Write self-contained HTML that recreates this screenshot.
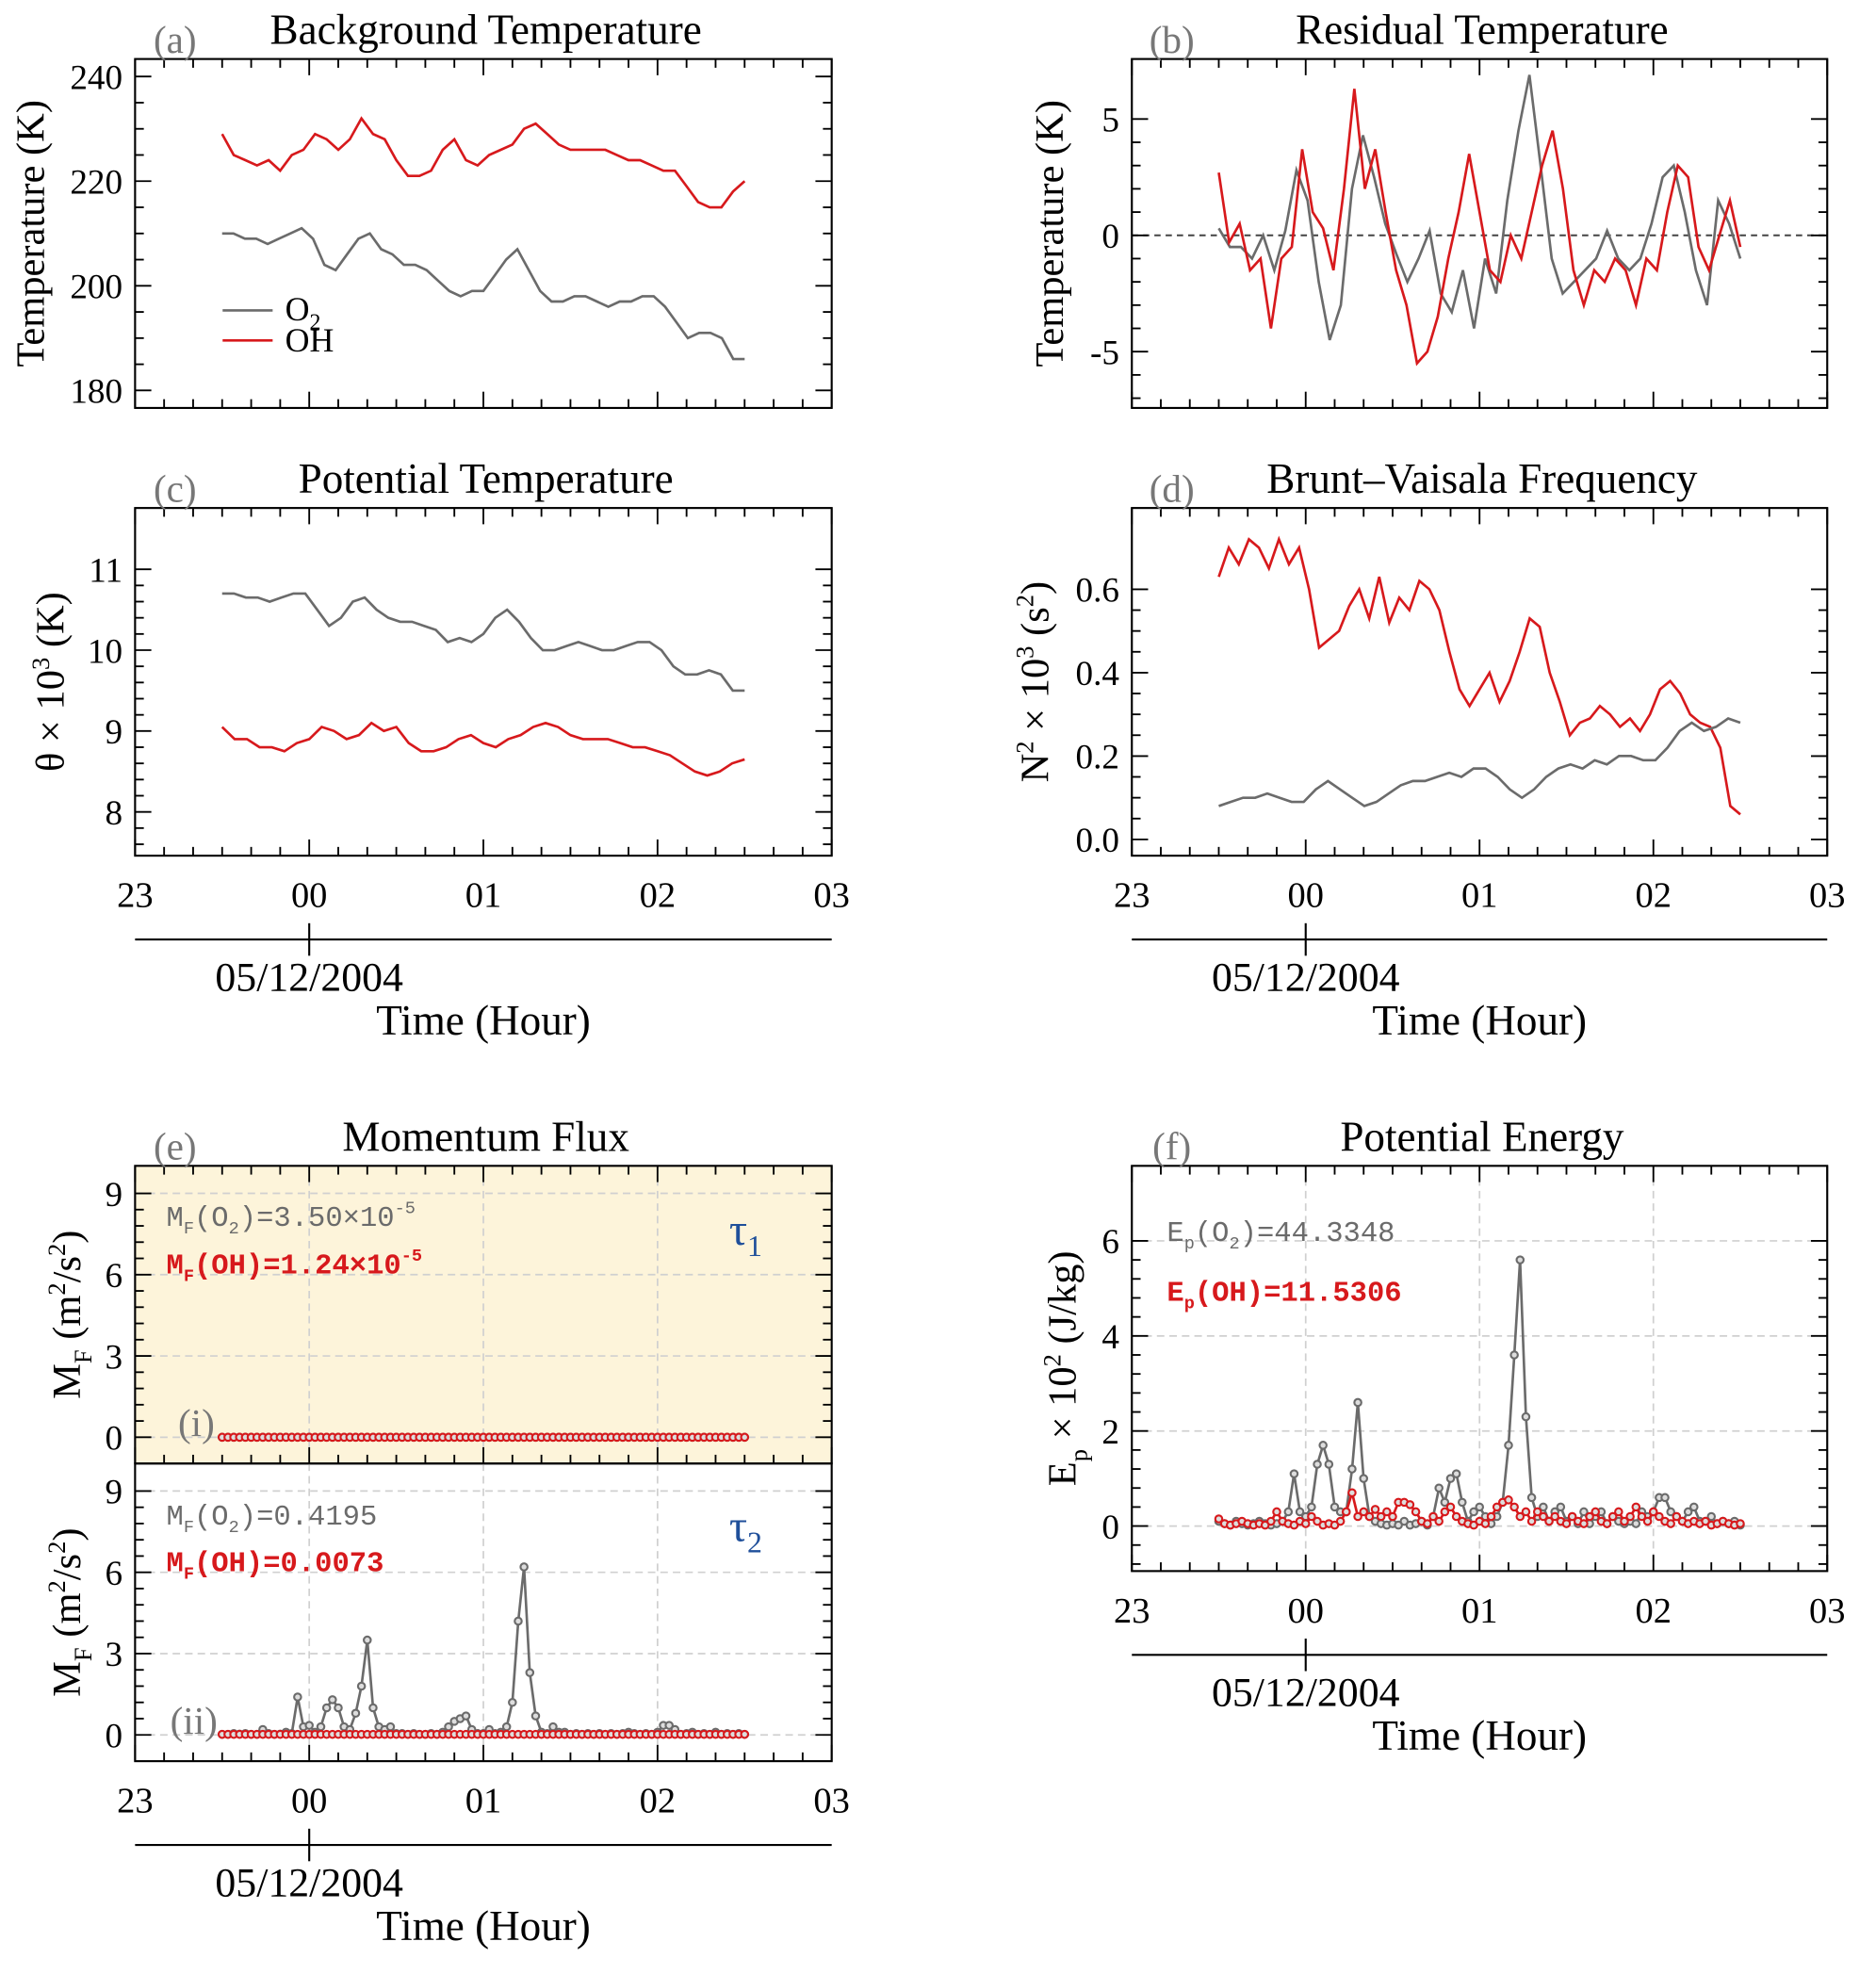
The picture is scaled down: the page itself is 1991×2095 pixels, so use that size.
<!DOCTYPE html>
<html><head><meta charset="utf-8">
<style>
html,body{margin:0;padding:0;background:#fff;}
svg{display:block;}
text{font-family:"Liberation Serif",serif;}
.mono{font-family:"Liberation Mono",monospace;}
</style></head>
<body>
<svg id="fig" width="1991" height="2095" viewBox="0 0 1500 1578" xmlns="http://www.w3.org/2000/svg"></svg>
<script>
// ---------- DATA ----------
const hourLabels = ["23","00","01","02","03"];
const bgO2 = [210,210,209,209,208,209,210,211,209,204,203,206,209,210,207,206,204,204,203,201,199,198,199,199,202,205,207,203,199,197,197,198,198,197,196,197,197,198,198,196,193,190,191,191,190,186,186];
const bgOH = [229,225,224,223,224,222,225,226,229,228,226,228,232,229,228,224,221,221,222,226,228,224,223,225,226,227,230,231,229,227,226,226,226,226,225,224,224,223,222,222,219,216,215,215,218,220];
const resO2 = [0.3,-0.5,-0.5,-1.0,0.0,-1.5,0.2,2.8,1.5,-2.0,-4.5,-3.0,2.0,4.3,2.5,0.5,-0.8,-2.0,-1.0,0.2,-2.5,-3.3,-1.5,-4.0,-1.0,-2.5,1.5,4.5,6.9,3.0,-1.0,-2.5,-2.0,-1.5,-1.0,0.2,-1.0,-1.5,-1.0,0.5,2.5,3.0,1.0,-1.5,-3.0,1.5,0.5,-1.0];
const resOH = [2.7,-0.3,0.5,-1.5,-1.0,-4.0,-1.0,-0.5,3.7,1.0,0.3,-1.5,2.0,6.3,2.0,3.7,1.0,-1.5,-3.0,-5.5,-5.0,-3.5,-1.0,1.0,3.5,1.0,-1.5,-2.0,0.0,-1.0,1.0,3.0,4.5,2.0,-1.5,-3.0,-1.5,-2.0,-1.0,-1.5,-3.0,-1.0,-1.5,1.0,3.0,2.5,-0.5,-1.5,0.0,1.5,-0.5];
const thO2 = [10.7,10.7,10.65,10.65,10.6,10.65,10.7,10.7,10.5,10.3,10.4,10.6,10.65,10.5,10.4,10.35,10.35,10.3,10.25,10.1,10.15,10.1,10.2,10.4,10.5,10.35,10.15,10.0,10.0,10.05,10.1,10.05,10.0,10.0,10.05,10.1,10.1,10.0,9.8,9.7,9.7,9.75,9.7,9.5,9.5];
const thOH = [9.05,8.9,8.9,8.8,8.8,8.75,8.85,8.9,9.05,9.0,8.9,8.95,9.1,9.0,9.05,8.85,8.75,8.75,8.8,8.9,8.95,8.85,8.8,8.9,8.95,9.05,9.1,9.05,8.95,8.9,8.9,8.9,8.85,8.8,8.8,8.75,8.7,8.6,8.5,8.45,8.5,8.6,8.65];
const bvOH = [0.63,0.70,0.66,0.72,0.70,0.65,0.72,0.66,0.70,0.60,0.46,0.48,0.50,0.56,0.60,0.53,0.63,0.52,0.58,0.55,0.62,0.60,0.55,0.45,0.36,0.32,0.36,0.40,0.33,0.38,0.45,0.53,0.51,0.40,0.33,0.25,0.28,0.29,0.32,0.30,0.27,0.29,0.26,0.30,0.36,0.38,0.35,0.30,0.28,0.27,0.22,0.08,0.06];
const bvO2 = [0.08,0.09,0.10,0.10,0.11,0.10,0.09,0.09,0.12,0.14,0.12,0.10,0.08,0.09,0.11,0.13,0.14,0.14,0.15,0.16,0.15,0.17,0.17,0.15,0.12,0.10,0.12,0.15,0.17,0.18,0.17,0.19,0.18,0.20,0.20,0.19,0.19,0.22,0.26,0.28,0.26,0.27,0.29,0.28];
const mf1O2 = [0,0,0,0,0,0,0,0,0,0,0,0,0,0,0,0,0,0,0,0,0,0,0,0,0,0,0,0,0,0,0,0,0,0,0,0,0,0,0,0,0,0,0,0,0,0,0,0,0,0,0,0,0,0,0,0,0,0,0,0,0,0,0,0,0,0,0,0,0,0,0,0,0,0,0,0,0,0,0,0,0,0,0,0,0,0,0,0,0,0,0];
const mf1OH = [0,0,0,0,0,0,0,0,0,0,0,0,0,0,0,0,0,0,0,0,0,0,0,0,0,0,0,0,0,0,0,0,0,0,0,0,0,0,0,0,0,0,0,0,0,0,0,0,0,0,0,0,0,0,0,0,0,0,0,0,0,0,0,0,0,0,0,0,0,0,0,0,0,0,0,0,0,0,0,0,0,0,0,0,0,0,0,0,0,0,0];
const mf2O2 = [0.02,0.02,0.05,0.03,0.05,0.02,0.02,0.2,0.05,0.02,0.03,0.1,0.05,1.4,0.3,0.35,0.1,0.3,1.0,1.3,1.0,0.3,0.2,0.8,1.8,3.5,1.0,0.3,0.2,0.3,0.05,0.05,0.02,0.05,0.02,0.02,0.05,0.02,0.1,0.3,0.5,0.6,0.7,0.2,0.05,0.05,0.2,0.05,0.1,0.3,1.2,4.2,6.2,2.3,0.7,0.1,0.05,0.3,0.1,0.1,0.02,0.05,0.02,0.05,0.02,0.05,0.02,0.05,0.02,0.05,0.1,0.05,0.02,0.05,0.02,0.1,0.35,0.35,0.2,0.02,0.05,0.1,0.02,0.05,0.02,0.1,0.02,0.05,0.02,0.05,0.02];
const mf2OH = [0.02,0.02,0.02,0.02,0.02,0.02,0.02,0.02,0.02,0.02,0.02,0.02,0.02,0.02,0.02,0.02,0.02,0.02,0.02,0.02,0.02,0.02,0.02,0.02,0.02,0.02,0.02,0.02,0.02,0.02,0.02,0.02,0.02,0.02,0.02,0.02,0.02,0.02,0.02,0.02,0.02,0.02,0.02,0.02,0.02,0.02,0.02,0.02,0.02,0.02,0.02,0.02,0.02,0.02,0.02,0.02,0.02,0.02,0.02,0.02,0.02,0.02,0.02,0.02,0.02,0.02,0.02,0.02,0.02,0.02,0.02,0.02,0.02,0.02,0.02,0.02,0.02,0.02,0.02,0.02,0.02,0.02,0.02,0.02,0.02,0.02,0.02,0.02,0.02,0.02,0.02];
const epO2 = [0.1,0.05,0.02,0.1,0.05,0.02,0.05,0.1,0.05,0.02,0.05,0.1,0.3,1.1,0.3,0.2,0.4,1.3,1.7,1.3,0.4,0.3,0.3,1.2,2.6,1.0,0.2,0.1,0.05,0.02,0.05,0.02,0.1,0.02,0.05,0.1,0.02,0.2,0.8,0.5,1.0,1.1,0.5,0.1,0.3,0.4,0.2,0.05,0.2,0.5,1.7,3.6,5.6,2.3,0.6,0.2,0.4,0.1,0.3,0.4,0.1,0.2,0.05,0.3,0.05,0.2,0.3,0.05,0.2,0.1,0.05,0.1,0.05,0.3,0.2,0.3,0.6,0.6,0.3,0.2,0.1,0.3,0.4,0.1,0.1,0.2,0.05,0.1,0.05,0.1,0.02];
const epOH = [0.15,0.05,0.02,0.05,0.1,0.05,0.02,0.05,0.02,0.1,0.3,0.1,0.05,0.02,0.1,0.05,0.2,0.1,0.02,0.05,0.02,0.1,0.3,0.7,0.2,0.3,0.2,0.35,0.2,0.3,0.2,0.5,0.5,0.45,0.3,0.1,0.05,0.2,0.1,0.3,0.4,0.2,0.1,0.05,0.02,0.1,0.05,0.2,0.4,0.5,0.55,0.4,0.2,0.3,0.1,0.3,0.2,0.1,0.2,0.1,0.05,0.2,0.1,0.05,0.2,0.3,0.1,0.05,0.2,0.3,0.1,0.2,0.4,0.2,0.1,0.3,0.2,0.1,0.05,0.2,0.1,0.05,0.1,0.05,0.1,0.02,0.05,0.1,0.05,0.02,0.05];

// ---------- HELPERS ----------
const NS="http://www.w3.org/2000/svg";
const svg=document.getElementById('fig');
const GRAY="#6b6b6b", RED="#d7191c";
function mk(tag,attrs,parent,txt){const e=document.createElementNS(NS,tag);for(const k in attrs)e.setAttribute(k,attrs[k]);if(txt!==undefined)e.textContent=txt;(parent||svg).appendChild(e);return e;}
function txt(x,y,s,size,fill,anchor,parent,name){const t=mk('text',{x:x,y:y,'font-size':size,fill:fill||'#000','text-anchor':anchor||'middle'},parent,s);


return t;}

function panel(p){
  const g=mk('g',{});
  
  
  const W=p.x1-p.x0;
  const xs=m=>p.x0+m/240*W;
  const ys=v=>p.yb+(v-p.vmin)/(p.vmax-p.vmin)*(p.yt-p.yb);
  if(p.bg){const r=mk('rect',{x:p.x0,y:p.y0,width:W,height:p.y1-p.y0,fill:p.bg},g);
    
    }
  if(p.grid){
    for(let h=1;h<4;h++){const l=mk('line',{x1:xs(h*60),x2:xs(h*60),y1:p.y0,y2:p.y1,stroke:'#d0d0d0','stroke-width':1.3,'stroke-dasharray':'6 4'},g);
      
      }
    p.ticks.forEach(v=>{const l=mk('line',{x1:p.x0,x2:p.x1,y1:ys(v),y2:ys(v),stroke:'#d0d0d0','stroke-width':1.3,'stroke-dasharray':'6 4'},g);
      
      });
  }
  if(p.zero){const l=mk('line',{x1:p.x0,x2:p.x1,y1:ys(0),y2:ys(0),stroke:'#444','stroke-width':1.5,'stroke-dasharray':'5 4'},g);
    
    }
  p.series.forEach(s=>{
    const n=s.data.length, step=180/(n-1);
    const pts=s.data.map((v,i)=>xs(30+i*step).toFixed(1)+','+ys(v).toFixed(1)).join(' ');
    const pl=mk('polyline',{points:pts,fill:'none',stroke:s.color,'stroke-width':s.w||2},g);
    
    
    if(s.markers){s.data.forEach((v,i)=>{const c=mk('circle',{cx:xs(30+i*step),cy:ys(v),r:2.8,fill:'#ddd',stroke:s.color,'stroke-width':1.6},g);
      
      });}
  });
  const fr=mk('rect',{x:p.x0,y:p.y0,width:W,height:p.y1-p.y0,fill:'none',stroke:'#000','stroke-width':1.6},g);
  
  
  for(let m=0;m<=240;m+=10){const big=m%60===0;const L=big?13:7;const x=xs(m);
    if(!p.noBottomTicks) mk('line',{x1:x,x2:x,y1:p.y1,y2:p.y1-L,stroke:'#000','stroke-width':1.4},g);
    if(!p.noTopTicks) mk('line',{x1:x,x2:x,y1:p.y0,y2:p.y0+L,stroke:'#000','stroke-width':1.4},g);}
  const mt=p.minor;
  for(let v=p.tickStart;v<=p.vmax+1e-9;v+=mt){const y=ys(v);if(y<p.y0-0.5||y>p.y1+0.5)continue;
    const isMaj=p.ticks.some(t=>Math.abs(t-v)<1e-6);const L=isMaj?13:7;
    mk('line',{x1:p.x0,x2:p.x0+L,y1:y,y2:y,stroke:'#000','stroke-width':1.4},g);
    mk('line',{x1:p.x1,x2:p.x1-L,y1:y,y2:y,stroke:'#000','stroke-width':1.4},g);}
  p.ticks.forEach((v,i)=>txt(p.x0-10,ys(v)+10,p.tickLabels[i],28,'#000','end',g,'y-tick-label'));
  if(p.xlabels){hourLabels.forEach((h,i)=>txt(xs(i*60),p.y1+41,h,29,'#000','middle',g,'x-tick-label'));
    const ay=p.y1+67;
    const al=mk('line',{x1:p.x0,x2:p.x1,y1:ay,y2:ay,stroke:'#000','stroke-width':1.6},g);
    
    
    mk('line',{x1:xs(60),x2:xs(60),y1:ay-13,y2:ay+13,stroke:'#000','stroke-width':1.6},g);
    txt(xs(60),ay+41,'05/12/2004',33,'#000','middle',g,'date-label');
    txt(xs(120),ay+76,'Time (Hour)',34,'#000','middle',g,'x-axis-title');}
  if(p.title) txt((p.x0+p.x1)/2+2,p.y0-12,p.title,34,'#000','middle',g,'panel-title');
  if(p.letter) txt(p.x0+32,p.y0-5,p.letter,31,'#777','middle',g,'panel-letter');
  if(p.ylabel){const t=mk('text',{transform:`translate(${p.ylx},${(p.y0+p.y1)/2}) rotate(-90)`,'font-size':32,'text-anchor':'middle'},g);
    
    
    t.innerHTML=p.ylabel;}
  return {g,xs,ys};
}

// (a)
const A=panel({name:'panel-a',x0:108,x1:665,y0:47,y1:326,vmin:180,vmax:240,yb:312,yt:61,ticks:[180,200,220,240],tickLabels:['180','200','220','240'],tickStart:180,minor:5,
 title:'Background Temperature',letter:'(a)',ylx:35,ylabel:'Temperature (K)',
 series:[{name:'o2-background',data:bgO2,color:GRAY},{name:'oh-background',data:bgOH,color:RED}]});
mk('line',{x1:178,x2:218,y1:248,y2:248,stroke:GRAY,'stroke-width':2},A.g);
mk('line',{x1:178,x2:218,y1:272,y2:272,stroke:RED,'stroke-width':2},A.g);
{const t=mk('text',{x:228,y:256,'font-size':27},A.g);t.innerHTML='O<tspan font-size="18" dy="7">2</tspan>';}
txt(228,281,'OH',27,'#000','start',A.g,'legend-oh');

// (b)
panel({name:'panel-b',x0:905,x1:1461,y0:47,y1:326,vmin:-5,vmax:5,yb:281,yt:95,ticks:[-5,0,5],tickLabels:['-5','0','5'],tickStart:-7,minor:1,zero:true,
 title:'Residual Temperature',letter:'(b)',ylx:850,ylabel:'Temperature (K)',
 series:[{name:'o2-residual',data:resO2,color:GRAY},{name:'oh-residual',data:resOH,color:RED}]});

// (c)
panel({name:'panel-c',x0:108,x1:665,y0:406,y1:684,vmin:8,vmax:11,yb:649,yt:455,ticks:[8,9,10,11],tickLabels:['8','9','10','11'],tickStart:7.6,minor:0.2,xlabels:true,
 title:'Potential Temperature',letter:'(c)',ylx:51,ylabel:'θ × 10<tspan font-size="20" dy="-12">3</tspan><tspan dy="12"> (K)</tspan>',
 series:[{name:'o2-theta',data:thO2,color:GRAY},{name:'oh-theta',data:thOH,color:RED}]});

// (d)
panel({name:'panel-d',x0:905,x1:1461,y0:406,y1:684,vmin:0,vmax:0.6,yb:671,yt:471,ticks:[0,0.2,0.4,0.6],tickLabels:['0.0','0.2','0.4','0.6'],tickStart:0,minor:0.05,xlabels:true,
 title:'Brunt–Vaisala Frequency',letter:'(d)',ylx:838,ylabel:'N<tspan font-size="20" dy="-12">2</tspan><tspan dy="12"> × 10</tspan><tspan font-size="20" dy="-12">3</tspan><tspan dy="12"> (s</tspan><tspan font-size="20" dy="-12">2</tspan><tspan dy="12">)</tspan>',
 series:[{name:'oh-bv',data:bvOH,color:RED},{name:'o2-bv',data:bvO2,color:GRAY}]});

const MFLABEL='M<tspan font-size="20" dy="9">F</tspan><tspan dy="-9"> (m</tspan><tspan font-size="20" dy="-12">2</tspan><tspan dy="12">/s</tspan><tspan font-size="20" dy="-12">2</tspan><tspan dy="12">)</tspan>';
// (e i)
const E1=panel({name:'panel-e-tau1',x0:108,x1:665,y0:932,y1:1170,vmin:0,vmax:9,yb:1149,yt:954,ticks:[0,3,6,9],tickLabels:['0','3','6','9'],tickStart:0,minor:0.6,grid:true,bg:'#fdf4da',
 title:'Momentum Flux',letter:'(e)',ylx:64,ylabel:MFLABEL,
 series:[{name:'o2-mf-tau1',data:mf1O2,color:GRAY,markers:true},{name:'oh-mf-tau1',data:mf1OH,color:RED,markers:true}]});
{const t=mk('text',{x:133,y:980,'font-size':23,fill:GRAY,class:'mono'},E1.g);t.innerHTML='M<tspan font-size="14" dy="6">F</tspan><tspan dy="-6">(O</tspan><tspan font-size="14" dy="6">2</tspan><tspan dy="-6">)=3.50×10</tspan><tspan font-size="14" dy="-10">-5</tspan>';}
{const t=mk('text',{x:133,y:1018,'font-size':23,fill:RED,class:'mono','font-weight':'bold'},E1.g);t.innerHTML='M<tspan font-size="14" dy="6">F</tspan><tspan dy="-6">(OH)=1.24×10</tspan><tspan font-size="14" dy="-10">-5</tspan>';}
{const t=mk('text',{x:583,y:995,'font-size':36,fill:'#1f4f9a'},E1.g);t.innerHTML='τ<tspan font-size="24" dy="9">1</tspan>';}
txt(157,1148,'(i)',31,'#777','middle',E1.g,'subpanel-i-label');

// (e ii)
const E2=panel({name:'panel-e-tau2',x0:108,x1:665,y0:1170,y1:1408,vmin:0,vmax:9,yb:1387,yt:1192,ticks:[0,3,6,9],tickLabels:['0','3','6','9'],tickStart:0,minor:0.6,grid:true,xlabels:true,noTopTicks:true,
 ylx:64,ylabel:MFLABEL,
 series:[{name:'o2-mf-tau2',data:mf2O2,color:GRAY,markers:true},{name:'oh-mf-tau2',data:mf2OH,color:RED,markers:true}]});
{const t=mk('text',{x:133,y:1219,'font-size':23,fill:GRAY,class:'mono'},E2.g);t.innerHTML='M<tspan font-size="14" dy="6">F</tspan><tspan dy="-6">(O</tspan><tspan font-size="14" dy="6">2</tspan><tspan dy="-6">)=0.4195</tspan>';}
{const t=mk('text',{x:133,y:1256,'font-size':23,fill:RED,class:'mono','font-weight':'bold'},E2.g);t.innerHTML='M<tspan font-size="14" dy="6">F</tspan><tspan dy="-6">(OH)=0.0073</tspan>';}
{const t=mk('text',{x:583,y:1232,'font-size':36,fill:'#1f4f9a'},E2.g);t.innerHTML='τ<tspan font-size="24" dy="9">2</tspan>';}
txt(155,1386,'(ii)',31,'#777','middle',E2.g,'subpanel-ii-label');

// (f)
const F=panel({name:'panel-f',x0:905,x1:1461,y0:932,y1:1256,vmin:0,vmax:6,yb:1220,yt:992,ticks:[0,2,4,6],tickLabels:['0','2','4','6'],tickStart:-0.8,minor:0.4,grid:true,xlabels:true,
 title:'Potential Energy',letter:'(f)',ylx:860,ylabel:'E<tspan font-size="20" dy="9">p</tspan><tspan dy="-9"> × 10</tspan><tspan font-size="20" dy="-12">2</tspan><tspan dy="12"> (J/kg)</tspan>',
 series:[{name:'o2-ep',data:epO2,color:GRAY,markers:true},{name:'oh-ep',data:epOH,color:RED,markers:true}]});
{const t=mk('text',{x:933,y:992,'font-size':23,fill:GRAY,class:'mono'},F.g);t.innerHTML='E<tspan font-size="14" dy="6">p</tspan><tspan dy="-6">(O</tspan><tspan font-size="14" dy="6">2</tspan><tspan dy="-6">)=44.3348</tspan>';}
{const t=mk('text',{x:933,y:1040,'font-size':23,fill:RED,class:'mono','font-weight':'bold'},F.g);t.innerHTML='E<tspan font-size="14" dy="6">p</tspan><tspan dy="-6">(OH)=11.5306</tspan>';}
</script>
</body></html>
